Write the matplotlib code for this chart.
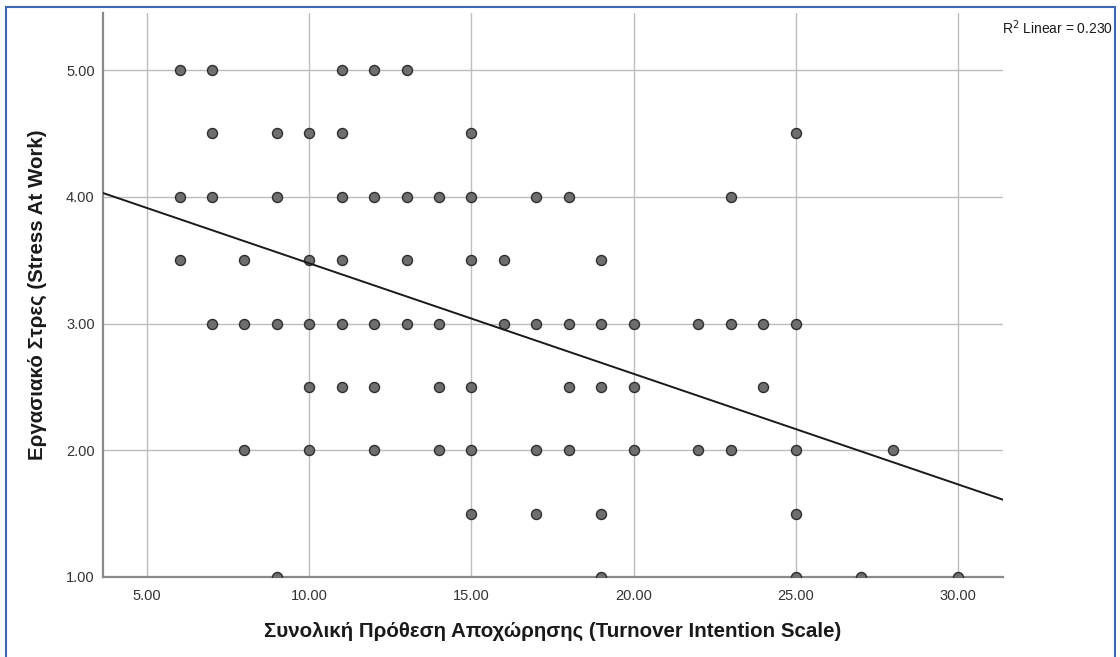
import matplotlib
matplotlib.use("Agg")
import matplotlib.pyplot as plt
from matplotlib.patches import Rectangle
import numpy as np

plt.rcParams['font.family'] = ['Liberation Sans', 'DejaVu Sans']

# turnover intention score (x) vs stress at work (y), one entry per visible point
turnover = [6, 7, 11, 12, 13,
            7, 9, 10, 11, 15, 25,
            6, 7, 9, 11, 12, 13, 14, 15, 17, 18, 23,
            6, 8, 10, 11, 13, 15, 16, 19,
            7, 8, 9, 10, 11, 12, 13, 14, 16, 17, 18, 19, 20, 22, 23, 24, 25,
            10, 11, 12, 14, 15, 18, 19, 20, 24,
            8, 10, 12, 14, 15, 17, 18, 20, 22, 23, 25, 28,
            15, 17, 19, 25,
            9, 19, 25, 27, 30]
stress = [5.0] * 5 + [4.5] * 6 + [4.0] * 11 + [3.5] * 8 + [3.0] * 17 \
    + [2.5] * 9 + [2.0] * 12 + [1.5] * 4 + [1.0] * 5

# fitted line
fit_intercept = 4.347
fit_slope = -0.0872
r2_linear = 0.230

x_ticks = [5, 10, 15, 20, 25, 30]
y_ticks = [1, 2, 3, 4, 5]
x_range = (3.64, 31.39)
y_range = (1.0, 5.45)

fig = plt.figure(figsize=(11.2, 6.57), dpi=100)
ax = fig.add_axes([0.092, 0.1218, 0.8035, 0.8584])

ax.set_xlim(*x_range)
ax.set_ylim(*y_range)
ax.set_xticks(x_ticks)
ax.set_yticks(y_ticks)
ax.set_xticklabels([f"{v:.2f}" for v in x_ticks])
ax.set_yticklabels([f"{v:.2f}" for v in y_ticks])
ax.tick_params(length=0, labelsize=10.5, colors='#333333')
ax.tick_params(axis='x', pad=9)
ax.tick_params(axis='y', pad=6)

ax.grid(True, color='#bdbdbd', linewidth=1.0, zorder=0)
ax.set_axisbelow(True)
for side in ['top', 'right']:
    ax.spines[side].set_visible(False)
for side in ['left', 'bottom']:
    ax.spines[side].set_color('#8a8a8a')
    ax.spines[side].set_linewidth(1.6)

ax.scatter(turnover, stress, s=52, color='#6e6e6e', edgecolor='#2e2e2e',
           linewidth=1.0, zorder=3)

xs = np.array(x_range)
ax.plot(xs, fit_intercept + fit_slope * xs, color='#1a1a1a', linewidth=1.4, zorder=4)

ax.set_xlabel("Συνολική Πρόθεση Αποχώρησης (Turnover Intention Scale)",
              fontsize=14.8, fontweight='bold', color='#1a1a1a', labelpad=13)
ax.set_ylabel("Εργασιακό Στρες (Stress At Work)",
              fontsize=14.8, fontweight='bold', color='#1a1a1a', labelpad=14)

fig.text(0.994, 0.958, f"R$^2$ Linear = {r2_linear:.3f}", ha='right', va='center',
         fontsize=10, color='#1a1a1a')

# blue frame around the chart
fig.patches.append(Rectangle((6 / 1120, -0.05), 1109 / 1120, 1.05 - 7 / 657,
                             transform=fig.transFigure, fill=False,
                             edgecolor='#3f66b3', linewidth=1.5))

fig.savefig("out.png", dpi=100)
